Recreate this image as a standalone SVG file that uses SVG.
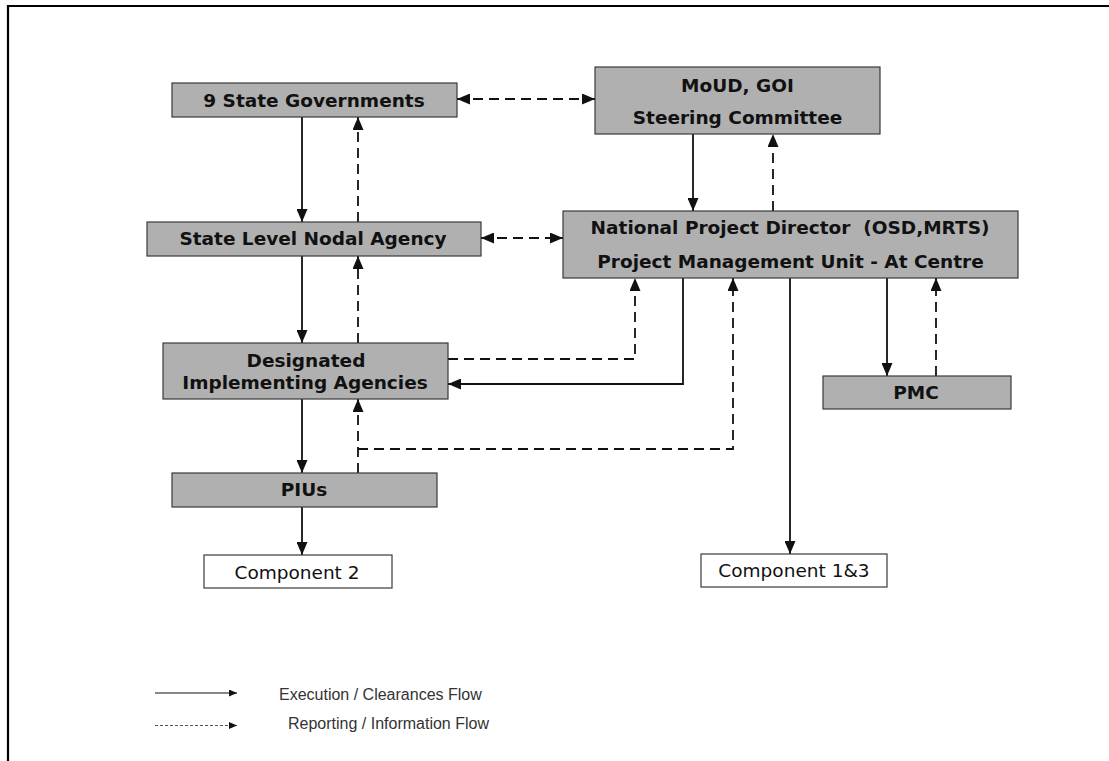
<svg xmlns="http://www.w3.org/2000/svg" width="1109" height="761" viewBox="0 0 1109 761">
  <style>
    .box { fill: #b0b0b0; stroke: #3a3a3a; stroke-width: 1.2; }
    .wbox { fill: #ffffff; stroke: #3a3a3a; stroke-width: 1.2; }
    .bt { font-family: "DejaVu Sans", Verdana, sans-serif; font-weight: bold; font-size: 18.5px; fill: #111; text-anchor: middle; }
    .nt { font-family: "DejaVu Sans", Verdana, sans-serif; font-size: 18.5px; fill: #111; text-anchor: middle; }
    .lt { font-family: "Liberation Sans", Arial, sans-serif; font-size: 16px; fill: #333; }
    .solid { fill: none; stroke: #111; stroke-width: 1.8; }
    .dash { fill: none; stroke: #111; stroke-width: 1.8; stroke-dasharray: 10 6; }
    .lsolid { fill: none; stroke: #111; stroke-width: 1.2; }
    .ldash { fill: none; stroke: #555; stroke-width: 1.2; stroke-dasharray: 3 2; }
  </style>
  <defs>
    <marker id="arr" viewBox="0 0 13 11" refX="13" refY="5.5" markerWidth="13" markerHeight="11" markerUnits="userSpaceOnUse" orient="auto-start-reverse">
      <path d="M0,0 L13,5.5 L0,11 Z" fill="#111"/>
    </marker>
    <marker id="sarr" viewBox="0 0 8 7" refX="8" refY="3.5" markerWidth="8" markerHeight="7" markerUnits="userSpaceOnUse" orient="auto">
      <path d="M0,0 L8,3.5 L0,7 Z" fill="#111"/>
    </marker>
  </defs>
  <rect width="1109" height="761" fill="#ffffff"/>
  <g id="frame">
    <path d="M8,761 L8,6 L1109,6" fill="none" stroke="#000" stroke-width="2.2"/>
  </g>

  <g id="connectors">
    <line class="solid" x1="302" y1="117" x2="302" y2="222" marker-end="url(#arr)"/>
    <line class="dash" x1="358" y1="222" x2="358" y2="117" marker-end="url(#arr)"/>
    <line class="dash" x1="457" y1="99" x2="595" y2="99" marker-start="url(#arr)" marker-end="url(#arr)"/>
    <line class="solid" x1="693" y1="134" x2="693" y2="211" marker-end="url(#arr)"/>
    <line class="dash" x1="773" y1="211" x2="773" y2="134" marker-end="url(#arr)"/>
    <line class="dash" x1="481" y1="238" x2="563" y2="238" marker-start="url(#arr)" marker-end="url(#arr)"/>
    <line class="solid" x1="302" y1="256" x2="302" y2="343" marker-end="url(#arr)"/>
    <line class="dash" x1="358" y1="343" x2="358" y2="256" marker-end="url(#arr)"/>
    <polyline class="dash" points="448,359 635,359 635,278" marker-end="url(#arr)"/>
    <polyline class="solid" points="683,278 683,384 448,384" marker-end="url(#arr)"/>
    <line class="solid" x1="302" y1="399" x2="302" y2="473" marker-end="url(#arr)"/>
    <line class="dash" x1="358" y1="473" x2="358" y2="399" marker-end="url(#arr)"/>
    <polyline class="dash" points="358,449 733,449 733,278" marker-end="url(#arr)"/>
    <line class="solid" x1="302" y1="507" x2="302" y2="555" marker-end="url(#arr)"/>
    <line class="solid" x1="790" y1="278" x2="790" y2="554" marker-end="url(#arr)"/>
    <line class="solid" x1="887" y1="278" x2="887" y2="376" marker-end="url(#arr)"/>
    <line class="dash" x1="936" y1="376" x2="936" y2="278" marker-end="url(#arr)"/>
  </g>

  <g id="n-state-gov">
    <rect class="box" x="172" y="83" width="285" height="34"/>
    <text class="bt" x="314" y="107">9 State Governments</text>
  </g>
  <g id="n-moud">
    <rect class="box" x="595" y="67" width="285" height="67"/>
    <text class="bt" x="737.5" y="92">MoUD, GOI</text>
    <text class="bt" x="737.5" y="124">Steering Committee</text>
  </g>
  <g id="n-slna">
    <rect class="box" x="147" y="222" width="334" height="34"/>
    <text class="bt" x="313" y="245">State Level Nodal Agency</text>
  </g>
  <g id="n-npd">
    <rect class="box" x="563" y="211" width="455" height="67"/>
    <text class="bt" x="790" y="234" xml:space="preserve">National Project Director  (OSD,MRTS)</text>
    <text class="bt" x="790.5" y="268">Project Management Unit - At Centre</text>
  </g>
  <g id="n-dia">
    <rect class="box" x="163" y="343" width="285" height="56"/>
    <text class="bt" x="306" y="367">Designated</text>
    <text class="bt" x="305" y="389">Implementing Agencies</text>
  </g>
  <g id="n-pmc">
    <rect class="box" x="823" y="376" width="188" height="33"/>
    <text class="bt" x="916" y="399">PMC</text>
  </g>
  <g id="n-pius">
    <rect class="box" x="172" y="473" width="265" height="34"/>
    <text class="bt" x="304" y="496">PIUs</text>
  </g>
  <g id="n-comp2">
    <rect class="wbox" x="204" y="555" width="188" height="33"/>
    <text class="nt" x="297" y="579">Component 2</text>
  </g>
  <g id="n-comp13">
    <rect class="wbox" x="701" y="554" width="186" height="33"/>
    <text class="nt" x="794" y="577">Component 1&amp;3</text>
  </g>

  <g id="legend">
    <line class="lsolid" x1="155" y1="693" x2="237" y2="693" marker-end="url(#sarr)"/>
    <text class="lt" x="279" y="700">Execution / Clearances Flow</text>
    <line class="ldash" x1="155" y1="725.5" x2="237" y2="725.5" marker-end="url(#sarr)"/>
    <text class="lt" x="288" y="729">Reporting / Information Flow</text>
  </g>
</svg>
